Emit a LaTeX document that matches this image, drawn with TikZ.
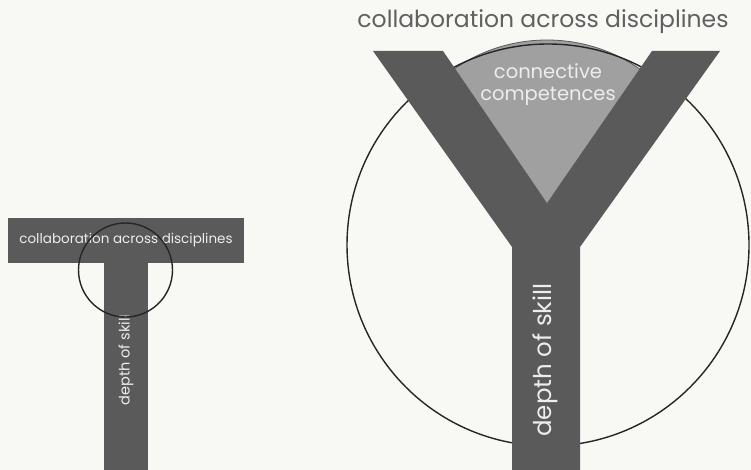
\documentclass[tikz,border=0pt]{standalone}
\usepackage{fontspec}
\setmainfont{Poppins}
\definecolor{bgc}{HTML}{F8F8F4}
\definecolor{darkg}{HTML}{5A5A5A}
\definecolor{lightg}{HTML}{A0A0A0}
\definecolor{titleg}{HTML}{606060}
\definecolor{txtw}{HTML}{EDEDED}
\tikzset{
  darkshape/.style={fill=darkg, draw=none},
  ring/.style={draw=black!85, line width=1.4pt},
  intext/.style={text=txtw, inner sep=0pt, align=center},
}
\begin{document}
\begin{tikzpicture}[x=1pt,y=-1pt]
\fill[bgc] (0,0) rectangle (751,470);
\useasboundingbox (0,0) rectangle (751,470);
% T shape
\fill[darkshape] (8,218) rectangle (244,263);
\fill[darkshape] (104,263) rectangle (148,470);
\node[intext, font=\fontsize{13.5}{15}\selectfont] (tbar) at (126,240.5) {collaboration across disciplines};
\node[intext, rotate=90, font=\fontsize{14.5}{16}\selectfont] (tstem) at (126,360) {depth of skill};
\draw[ring] (125.5,270) circle (47pt);
% Y shape
\coordinate (apex) at (547,203);
\begin{scope}
\clip (apex) -- (330,-101) -- (765,-101) -- cycle;
\fill[lightg, draw=darkg, line width=0.8pt] (apex) circle (163pt);
\end{scope}
\draw[ring] (548,245) circle (201pt);
\fill[darkshape] (373,51) -- (443,51) -- (apex) -- (652,51) -- (720,51) -- (580,247) -- (580,471) -- (512,471) -- (512,247) -- cycle;
\node[intext, font=\fontsize{19.5}{22}\selectfont] (conn) at (548,85) {connective\\competences};
\node[intext, rotate=90, font=\fontsize{24.5}{28}\selectfont] (ystem) at (545,360) {depth of skill};
\node[text=titleg, inner sep=0pt, font=\fontsize{23.5}{27}\selectfont] (title) at (543,22) {collaboration across disciplines};
\end{tikzpicture}
\end{document}
